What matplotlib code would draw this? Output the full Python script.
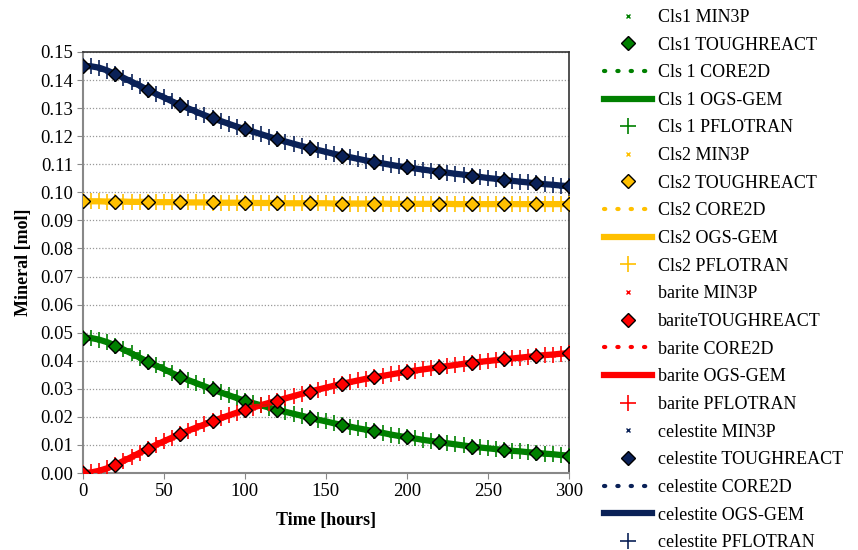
import numpy as np
import matplotlib.pyplot as plt
from matplotlib.ticker import MultipleLocator, FormatStrFormatter

plt.rcParams['font.family'] = ['Liberation Serif', 'DejaVu Serif']
plt.rcParams['font.size'] = 13

# time axis (hours)
t_fine = np.arange(0, 301, 5)
t_tr = np.arange(0, 301, 20)

# mineral amounts [mol], fine output (MIN3P, CORE2D, OGS-GEM, PFLOTRAN)
cls1 = [0.0482, 0.0481, 0.0475, 0.0466, 0.0454, 0.0440, 0.0426, 0.0411, 0.0397, 0.0383,
        0.0370, 0.0356, 0.0343, 0.0331, 0.0320, 0.0309, 0.0298, 0.0287, 0.0277, 0.0267,
        0.0257, 0.0249, 0.0241, 0.0233, 0.0225, 0.0218, 0.0211, 0.0204, 0.0197, 0.0190,
        0.0184, 0.0177, 0.0171, 0.0165, 0.0159, 0.0154, 0.0148, 0.0143, 0.0137, 0.0132,
        0.0127, 0.0123, 0.0118, 0.0114, 0.0110, 0.0106, 0.0102, 0.0098, 0.0094, 0.0091,
        0.0088, 0.0085, 0.0082, 0.0079, 0.0077, 0.0074, 0.0072, 0.0069, 0.0067, 0.0064,
        0.0062]
cls2 = [0.0968, 0.0968, 0.0968, 0.0967, 0.0967, 0.0967, 0.0966, 0.0966, 0.0966, 0.0965,
        0.0965, 0.0965, 0.0964, 0.0964, 0.0964, 0.0964, 0.0963, 0.0963, 0.0963, 0.0963,
        0.0962, 0.0962, 0.0962, 0.0962, 0.0962, 0.0961, 0.0961, 0.0961, 0.0961, 0.0961,
        0.0961, 0.0960, 0.0960, 0.0960, 0.0960, 0.0960, 0.0960, 0.0960, 0.0959, 0.0959,
        0.0959, 0.0959, 0.0959, 0.0959, 0.0959, 0.0959, 0.0958, 0.0958, 0.0958, 0.0958,
        0.0958, 0.0958, 0.0958, 0.0958, 0.0958, 0.0958, 0.0958, 0.0958, 0.0958, 0.0958,
        0.0958]
barite = [0.0000, 0.0002, 0.0008, 0.0017, 0.0029, 0.0043, 0.0057, 0.0072, 0.0086, 0.0100,
          0.0113, 0.0126, 0.0139, 0.0151, 0.0162, 0.0173, 0.0184, 0.0195, 0.0205, 0.0215,
          0.0225, 0.0233, 0.0242, 0.0250, 0.0258, 0.0266, 0.0274, 0.0282, 0.0290, 0.0297,
          0.0304, 0.0311, 0.0318, 0.0324, 0.0330, 0.0336, 0.0341, 0.0346, 0.0351, 0.0356,
          0.0361, 0.0365, 0.0369, 0.0373, 0.0377, 0.0381, 0.0385, 0.0389, 0.0393, 0.0396,
          0.0399, 0.0402, 0.0405, 0.0408, 0.0411, 0.0414, 0.0417, 0.0420, 0.0422, 0.0425,
          0.0427]
celestite = [0.1450, 0.1449, 0.1444, 0.1434, 0.1421, 0.1408, 0.1394, 0.1380, 0.1365, 0.1351,
             0.1338, 0.1324, 0.1311, 0.1299, 0.1287, 0.1275, 0.1264, 0.1254, 0.1244, 0.1234,
             0.1225, 0.1216, 0.1207, 0.1198, 0.1189, 0.1181, 0.1173, 0.1165, 0.1158, 0.1151,
             0.1144, 0.1137, 0.1131, 0.1125, 0.1119, 0.1113, 0.1108, 0.1103, 0.1098, 0.1093,
             0.1089, 0.1085, 0.1081, 0.1077, 0.1074, 0.1070, 0.1066, 0.1063, 0.1059, 0.1055,
             0.1051, 0.1048, 0.1044, 0.1041, 0.1038, 0.1035, 0.1032, 0.1029, 0.1027, 0.1024,
             0.1022]

# TOUGHREACT output every 20 h
cls1_tr = [0.0482, 0.0454, 0.0397, 0.0343, 0.0298, 0.0257, 0.0225, 0.0197,
           0.0171, 0.0148, 0.0127, 0.0110, 0.0094, 0.0082, 0.0072, 0.0062]
cls2_tr = [0.0968, 0.0967, 0.0966, 0.0965, 0.0964, 0.0963, 0.0962, 0.0961,
           0.0960, 0.0960, 0.0959, 0.0959, 0.0958, 0.0958, 0.0958, 0.0958]
barite_tr = [0.0000, 0.0029, 0.0086, 0.0139, 0.0184, 0.0225, 0.0258, 0.0290,
             0.0318, 0.0341, 0.0361, 0.0377, 0.0393, 0.0405, 0.0417, 0.0427]
celestite_tr = [0.1450, 0.1421, 0.1365, 0.1311, 0.1264, 0.1225, 0.1189, 0.1158,
                0.1131, 0.1108, 0.1089, 0.1074, 0.1059, 0.1044, 0.1032, 0.1022]

minerals = [
    ("Cls1", "Cls 1", "Cls1 ", cls1, cls1_tr, "#008000"),
    ("Cls2", "Cls2", "Cls2 ", cls2, cls2_tr, "#FFC000"),
    ("barite", "barite", "barite", barite, barite_tr, "#FF0000"),
    ("celestite", "celestite", "celestite ", celestite, celestite_tr, "#0A2157"),
]

fig = plt.figure(figsize=(8.58, 5.5), dpi=100)
ax = fig.add_axes([0.0967, 0.14, 0.5663, 0.7655])

handles = []
for name, name2, name_tr, fine, tr, col in minerals:
    h1, = ax.plot(t_fine, fine, ls="none", marker="x", ms=3, mew=1, color=col,
                  label=f"{name} MIN3P", zorder=3)
    h2, = ax.plot(t_tr, tr, ls="none", marker="D", ms=7, mfc=col, mec="black",
                  mew=1, label=f"{name_tr}TOUGHREACT", zorder=6)
    h3, = ax.plot(t_fine, fine, ls=(0, (0.3, 2.9)), lw=3, color=col,
                  dash_capstyle="round", label=f"{name2} CORE2D", zorder=4)
    h4, = ax.plot(t_fine, fine, ls="-", lw=4.5, color=col,
                  label=f"{name2} OGS-GEM", zorder=4)
    h5, = ax.plot(t_fine, fine, ls="none", marker="+", ms=11, mew=1.2, color=col,
                  label=f"{name2} PFLOTRAN", zorder=5)
    handles += [h1, h2, h3, h4, h5]

ax.set_xlim(0, 300)
ax.set_ylim(0, 0.15)
ax.xaxis.set_major_locator(MultipleLocator(50))
ax.yaxis.set_major_locator(MultipleLocator(0.01))
ax.yaxis.set_major_formatter(FormatStrFormatter("%.2f"))
ax.yaxis.grid(True, ls=(0, (1, 1.5)), color="#999999", lw=0.9)
ax.set_axisbelow(True)

for s in ["left", "bottom"]:
    ax.spines[s].set_color("#888888")
    ax.spines[s].set_linewidth(1.5)
for s in ["top", "right"]:
    ax.spines[s].set_color("#333333")
    ax.spines[s].set_linewidth(1.2)
ax.tick_params(direction="out", length=4, color="#888888", labelsize=13.5, pad=3)

ax.set_xlabel("Time [hours]", fontweight="bold", fontsize=13, labelpad=9)
ax.set_ylabel("Mineral [mol]", fontweight="bold", fontsize=13, labelpad=6)

fig.legend(handles=handles, loc="upper left", bbox_to_anchor=(0.695, 0.997),
           frameon=False, fontsize=13, handlelength=2.7, handletextpad=0.3,
           labelspacing=0.59, borderaxespad=0)

fig.savefig("out.png", dpi=100)
